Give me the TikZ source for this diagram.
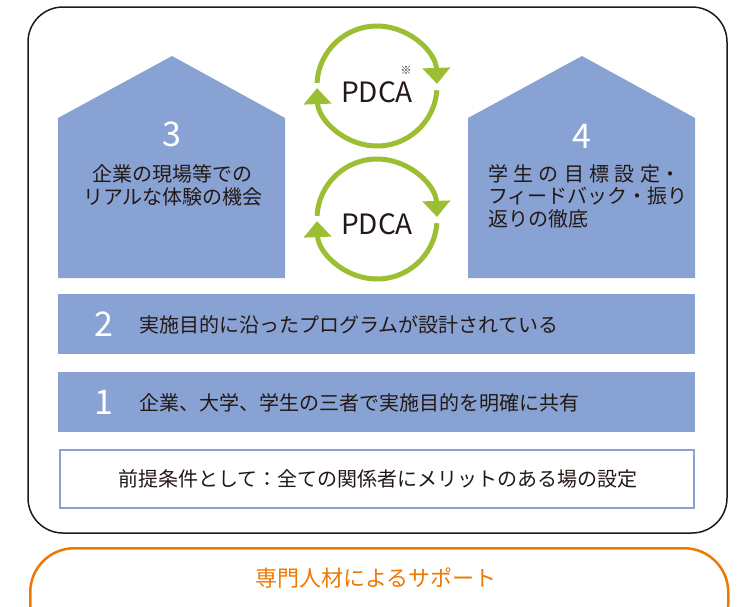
\documentclass[tikz,border=0pt]{standalone}
\usepackage{fontspec}
\setmainfont{Noto Sans CJK JP}
\usetikzlibrary{arrows.meta}
\definecolor{bluefill}{RGB}{136,163,211}
\definecolor{ink}{RGB}{35,24,21}
\definecolor{pdcagreen}{RGB}{155,190,50}
\definecolor{orangeline}{RGB}{238,120,0}
\begin{document}
\begin{tikzpicture}[x=1pt,y=1pt,
  jp/.style={font=\fontsize{20}{23}\selectfont, text=ink, inner sep=0pt, text height=17.6pt, text depth=2.4pt},
  num/.style={font=\fontsize{34}{34}\selectfont, text=white, inner sep=0pt, text height=22.4pt, text depth=0pt},
  pdca/.style={font=\fontsize{28}{28}\selectfont, text=ink, inner sep=0pt, text height=18.5pt, text depth=0pt},
  cyc/.style={draw=pdcagreen, line width=5pt, -{Triangle[width=27pt,length=16pt]}},
  house/.style={fill=bluefill},
  bar/.style={fill=bluefill, draw=none, minimum width=637pt, minimum height=60pt, inner sep=0pt}]
\useasboundingbox (0,0) rectangle (742,-606);
\fill[white] (0,0) rectangle (742,-606);
% outer frame
\node[draw=ink, line width=1.5pt, rounded corners=35pt, minimum width=699pt, minimum height=526pt, inner sep=0pt] (frame) at (377.5,-270) {};
% houses
\fill[house] (58,-278) -- (58,-118) -- (172,-56) -- (285,-118) -- (285,-278) -- cycle;
\fill[house] (468,-278) -- (468,-118) -- (582,-56) -- (695,-118) -- (695,-278) -- cycle;
\node[num] (n3) at (172,-135) {3};
\node[jp] (h3a) at (172,-174) {企業の現場等での};
\node[jp] (h3b) at (173,-197) {リアルな体験の機会};
\node[num] (n4) at (582,-137) {4};
\node[jp, anchor=west] (h4a) at (488,-174) {\hbox to 192pt{学\hfill 生\hfill の\hfill 目\hfill 標\hfill 設\hfill 定・}};
\node[jp, anchor=west] (h4b) at (488,-196) {フィードバック・振り};
\node[jp, anchor=west] (h4c) at (488,-219) {返りの徹底};
% PDCA cycles
\coordinate (c1) at (377,-86);
\coordinate (c2) at (377,-219);
\draw[cyc] (c1) ++(177:60) arc[start angle=177, end angle=2, radius=60];
\draw[cyc] (c1) ++(-4:60) arc[start angle=-4, end angle=-178, radius=60];
\draw[cyc] (c2) ++(177:60) arc[start angle=177, end angle=2, radius=60];
\draw[cyc] (c2) ++(-4:60) arc[start angle=-4, end angle=-178, radius=60];
\node[pdca] (p1) at (377,-93) {PDCA};
\node[font=\fontsize{11}{11}\selectfont, text=ink, inner sep=0pt] (note) at (406,-70) {※};
\node[pdca] (p2) at (377,-225) {PDCA};
% bars
\node[bar] (bar2) at (376.5,-324) {};
\node[num] (n2) at (104,-325) {2};
\node[jp, anchor=west] (t2) at (139,-325) {実施目的に沿ったプログラムが設計されている};
\node[bar] (bar1) at (376.5,-402) {};
\node[num] (n1) at (104,-403) {1};
\node[jp, anchor=west] (t1) at (139,-403) {企業、大学、学生の三者で実施目的を明確に共有};
\node[draw=bluefill, line width=2pt, fill=white, minimum width=634pt, minimum height=58pt, inner sep=0pt] (base) at (376.5,-478.5) {};
\node[jp] (t0) at (378,-479) {前提条件として：全ての関係者にメリットのある場の設定};
% support
\begin{scope}
\clip (0,0) rectangle (742,-606);
\node[draw=orangeline, line width=2.5pt, rounded corners=44pt, minimum width=698pt, minimum height=100pt, inner sep=0pt, anchor=north west] (support) at (29,-547) {};
\end{scope}
\node[font=\fontsize{22}{22}\selectfont, text=orangeline, inner sep=0pt, text height=19.4pt, text depth=2.6pt] (st) at (376,-578) {専門人材によるサポート};
\end{tikzpicture}
\end{document}
